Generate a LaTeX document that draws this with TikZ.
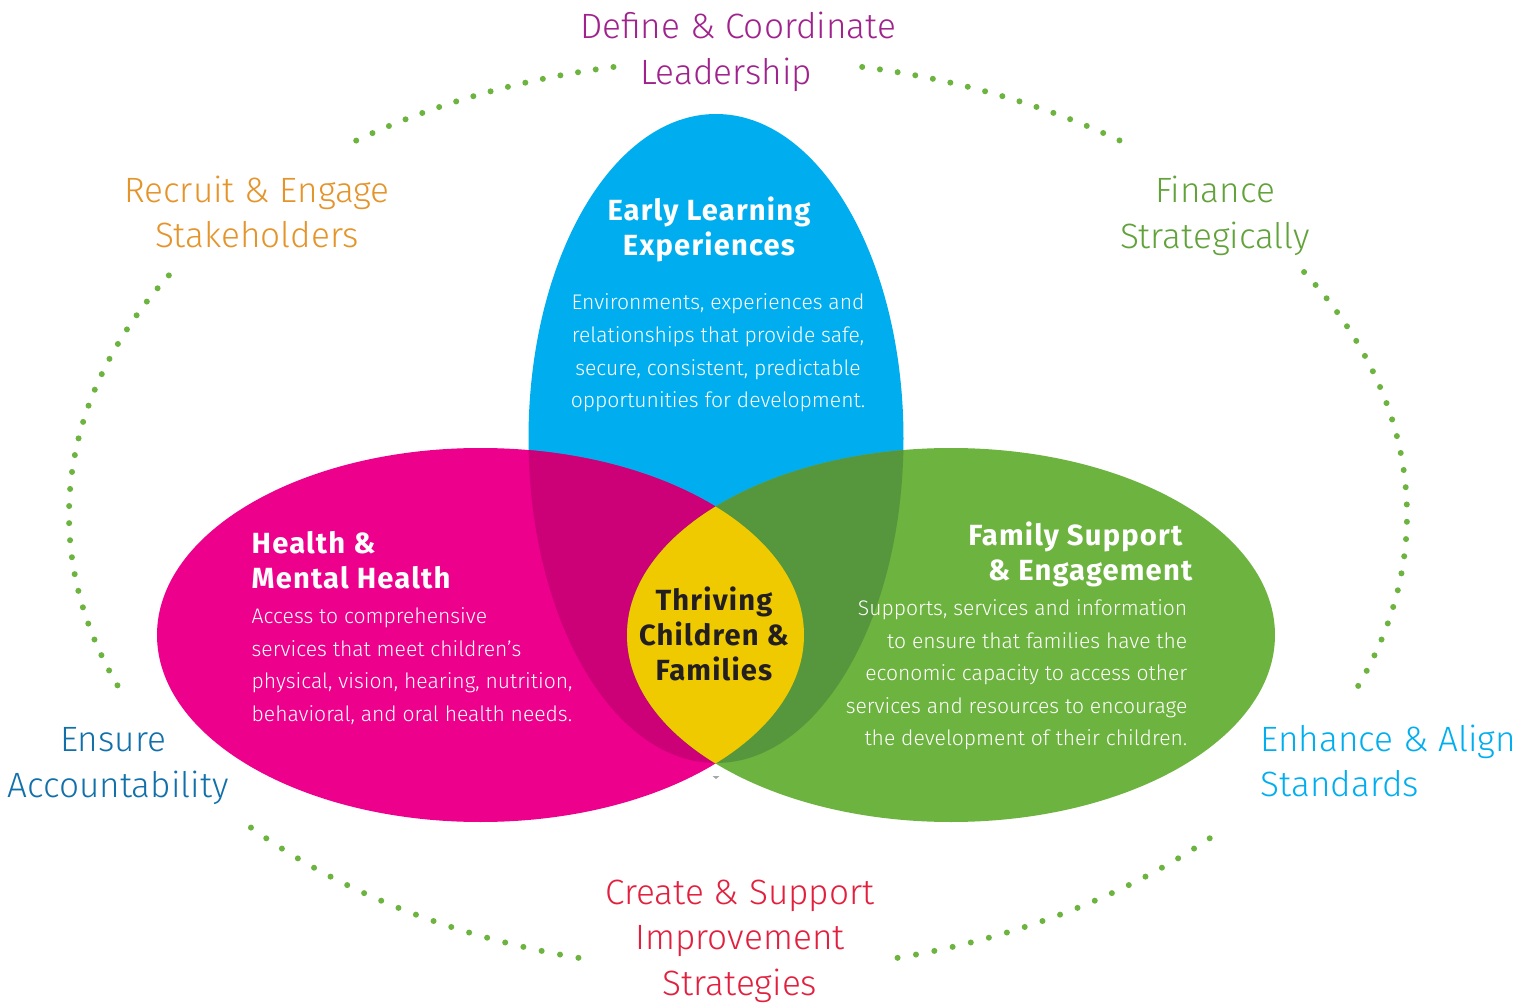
\documentclass[tikz,border=0pt]{standalone}
\usepackage{fontspec}
\setmainfont{Fira Sans}
\newfontfamily\lightfont{Fira Sans Light}
\newfontfamily\titlefont{Fira Sans}[LetterSpace=4]
\definecolor{cblue}{HTML}{00AEEF}
\definecolor{cpink}{HTML}{EC008C}
\definecolor{cgreen}{HTML}{6DB33F}
\definecolor{dpink}{HTML}{CC0077}
\definecolor{dgreen}{HTML}{56963C}
\definecolor{cyellow}{HTML}{EFCA00}
\definecolor{cdark}{HTML}{231F20}
\definecolor{lpurple}{HTML}{A0228D}
\definecolor{lorange}{HTML}{E5942A}
\definecolor{lgreen}{HTML}{62A23A}
\definecolor{lblue}{HTML}{1170AA}
\definecolor{lcyan}{HTML}{00AEEF}
\definecolor{lred}{HTML}{E2203E}
\definecolor{dotgreen}{HTML}{6DB33F}
\tikzset{
  outer/.style={font=\lightfont\fontsize{10}{12.9}\selectfont, inner sep=0pt},
  titletext/.style={font=\titlefont\bfseries\fontsize{8.3}{10}\selectfont, text=white, inner sep=0pt},
  bodytext/.style={font=\lightfont\fontsize{6}{9.25}\selectfont, text=white, inner sep=0pt},
  dotarc/.style={draw=dotgreen, line width=0.06cm, line cap=round, dash pattern=on 0pt off #1},
}
\begin{document}
\begin{tikzpicture}[x=0.01cm,y=-0.01cm]
\useasboundingbox (0,0) rectangle (1538,1003);
% dotted ring
\draw[dotarc=0.179cm] (738,515) ++(-124.8:669 and 456) arc[start angle=-124.8, end angle=-100.3, x radius=669, y radius=456];
\draw[dotarc=0.179cm] (738,515) ++(-79.3:669 and 456) arc[start angle=-79.3, end angle=-54.7, x radius=669, y radius=456];
\draw[dotarc=0.173cm] (738,515) ++(-32.2:669 and 456) arc[start angle=-32.2, end angle=22.7, x radius=669, y radius=456];
\draw[dotarc=0.187cm] (738,515) ++(76.2:669 and 456) arc[start angle=76.2, end angle=44.6, x radius=669, y radius=456];
\draw[dotarc=0.187cm] (738,515) ++(103.8:669 and 456) arc[start angle=103.8, end angle=137.1, x radius=669, y radius=456];
\draw[dotarc=0.171cm] (738,515) ++(211.7:669 and 456) arc[start angle=211.7, end angle=157.5, x radius=669, y radius=456];
% Venn
\fill[cblue] (716,438.5) ellipse [x radius=187.5, y radius=324.5];
\fill[cpink] (480.5,635) ellipse [x radius=323.5, y radius=187];
\fill[cgreen] (951,635) ellipse [x radius=324, y radius=187];
\begin{scope}
  \clip (480.5,635) ellipse [x radius=323.5, y radius=187];
  \fill[dpink] (716,438.5) ellipse [x radius=187.5, y radius=324.5];
\end{scope}
\begin{scope}
  \clip (951,635) ellipse [x radius=324, y radius=187];
  \fill[dgreen] (716,438.5) ellipse [x radius=187.5, y radius=324.5];
\end{scope}
\begin{scope}
  \clip (480.5,635) ellipse [x radius=323.5, y radius=187];
  \fill[cyellow] (951,635) ellipse [x radius=324, y radius=187];
\end{scope}
\fill[black!35] (712.5,776) -- (719.5,776) -- (716,779) -- cycle;
% outer labels
\node[outer, text=lpurple, align=center] (lead) at (738,52) {Define \& Coordinate\\Leadership\kern0.24cm};
\node[outer, text=lorange, align=center] (recruit) at (257,212) {Recruit \& Engage\\Stakeholders};
\node[outer, text=lgreen, align=center] (finance) at (1215,216) {Finance\\Strategically};
\node[outer, text=lblue, align=center] (ensure) at (118,766) {Ensure\kern0.1cm\\Accountability};
\node[outer, text=lcyan, align=left, anchor=west] (enhance) at (1260,761) {Enhance \& Align\\Standards};
\node[outer, text=lred, align=center] (create) at (740,941) {Create \& Support\\Improvement\\Strategies};
% inner texts
\node[titletext, align=center] (eltitle) at (709,229) {Early Learning\\Experiences};
\node[bodytext, align=center] (elbody) at (718,353) {Environments, experiences and\\relationships that provide safe,\\secure, consistent, predictable\\opportunities for development.};
\node[titletext, align=left, anchor=west] (hltitle) at (251,560) {Health \&\\Mental Health};
\node[bodytext, align=left, anchor=west] (hlbody) at (251,666) {Access to comprehensive\\services that meet children’s\\physical, vision, hearing, nutrition,\\behavioral, and oral health needs.};
\node[titletext, align=right, anchor=east] (fstitle) at (1193,554) {Family Support\kern0.1cm\\\& Engagement};
\node[bodytext, align=right, anchor=east] (fsbody) at (1188,675) {Supports, services and information\\to ensure that families have the\\economic capacity to access other\\services and resources to encourage\\the development of their children.};
\node[titletext, text=cdark, align=center] (center) at (714,634) {Thriving\\Children \&\\Families};
\end{tikzpicture}
\end{document}
